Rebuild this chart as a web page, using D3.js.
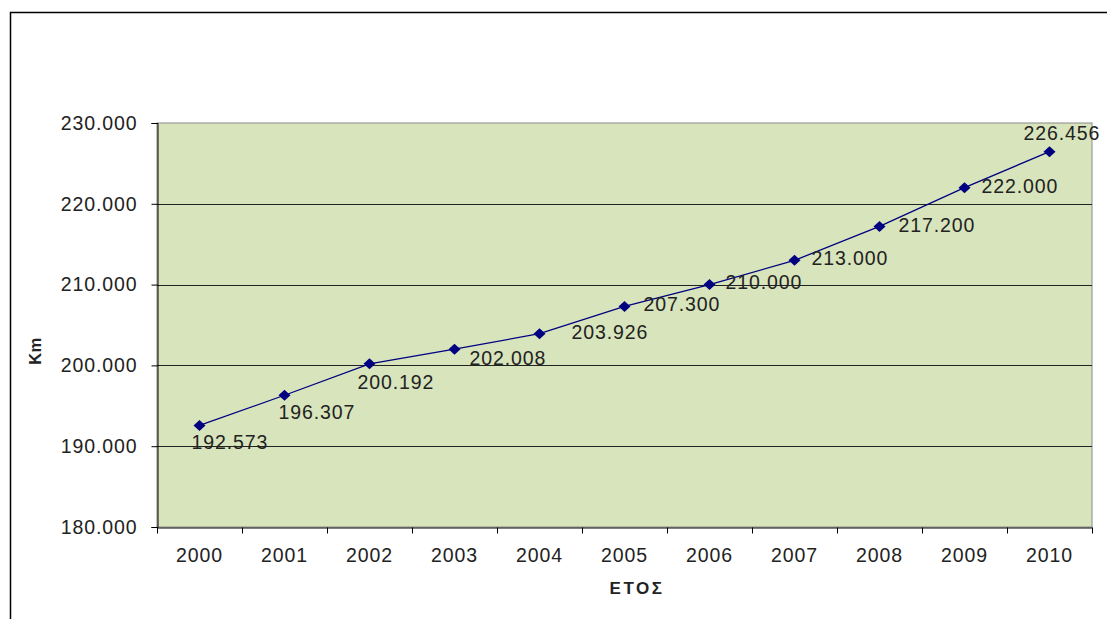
<!DOCTYPE html>
<html>
<head>
<meta charset="utf-8">
<script src="https://cdn.jsdelivr.net/npm/d3@7"></script>
<style>
  html, body { margin: 0; padding: 0; background: #fff; }
  svg { display: block; }
  text { font-family: "Liberation Sans", Arial, sans-serif; fill: #222; }
</style>
</head>
<body>
<svg id="chart" width="1107" height="619"></svg>
<script>
// Road network length per year (km)
const years = ["2000", "2001", "2002", "2003", "2004", "2005", "2006", "2007", "2008", "2009", "2010"];
const km = [192573, 196307, 200192, 202008, 203926, 207300, 210000, 213000, 217200, 222000, 226456];
const yTicks = [180000, 190000, 200000, 210000, 220000, 230000];
const xTitle = "ΕΤΟΣ";
const yTitle = "Km";

// Offset of each value label from its point: [dx to label start, dy to label middle]
const labelOffsets = [[-8, 18], [-6, 19], [-12, 20], [15, 11], [32, 0], [19, -1],
                      [16, -1], [17, -1], [19, 0], [17, 0], [-26, -17]];

const el = d3.formatLocale({ decimal: ",", thousands: ".", grouping: [3] });
const fmt = el.format(",d");

const svg = d3.select("#chart");
const plot = { left: 157, right: 1092, top: 123, bottom: 527 };

// Outer chart frame (open to the right and bottom)
svg.append("rect")
  .attr("x", 10.5).attr("y", 12.5)
  .attr("width", 1120).attr("height", 640)
  .attr("fill", "none").attr("stroke", "#000").attr("stroke-width", 1.5);

const x = d3.scaleBand().domain(years).range([plot.left, plot.right]);
const y = d3.scaleLinear().domain([180000, 230000]).range([plot.bottom, plot.top]);

// Plot area
svg.append("rect")
  .attr("x", plot.left).attr("y", plot.top)
  .attr("width", plot.right - plot.left).attr("height", plot.bottom - plot.top)
  .attr("fill", "#d8e4bc").attr("stroke", "#8a8a8a").attr("stroke-width", 1);

// Horizontal gridlines
svg.append("g")
  .selectAll("line")
  .data(yTicks.filter(t => t > 180000 && t < 230000))
  .join("line")
  .attr("x1", plot.left).attr("x2", plot.right)
  .attr("y1", d => Math.round(y(d)) + 0.5).attr("y2", d => Math.round(y(d)) + 0.5)
  .attr("stroke", "#222").attr("stroke-width", 1);

// Y axis
const yAxis = svg.append("g")
  .attr("transform", `translate(${plot.left + 0.5},0)`)
  .call(d3.axisLeft(y).tickValues(yTicks).tickFormat(fmt).tickSize(6).tickPadding(14));
yAxis.select(".domain").attr("stroke", "#000");
yAxis.selectAll(".tick line").attr("stroke", "#000");
yAxis.selectAll(".tick text")
  .style("font-size", "19.5px").style("letter-spacing", "0.9px")
  .attr("fill", "#222");

// X axis with ticks at category boundaries
const xAxis = svg.append("g")
  .attr("transform", `translate(0,${plot.bottom + 0.5})`)
  .call(d3.axisBottom(x).tickSize(0).tickPadding(21));
xAxis.select(".domain").attr("stroke", "#000");
xAxis.selectAll(".tick text")
  .style("font-size", "19.5px").style("letter-spacing", "0.9px")
  .attr("fill", "#222");
xAxis.selectAll(".boundary")
  .data(years.concat(["end"]))
  .join("line")
  .attr("class", "boundary")
  .attr("x1", (d, i) => Math.round(plot.left + i * x.step()) + 0.5)
  .attr("x2", (d, i) => Math.round(plot.left + i * x.step()) + 0.5)
  .attr("y1", 0).attr("y2", 6)
  .attr("stroke", "#000");

// Axis titles
svg.append("text")
  .attr("x", 637).attr("y", 590)
  .attr("text-anchor", "middle").attr("dominant-baseline", "middle")
  .style("font-size", "17px").style("font-weight", "bold").style("letter-spacing", "2.5px")
  .attr("fill", "#111")
  .text(xTitle);
svg.append("text")
  .attr("transform", "translate(37,351) rotate(-90)")
  .attr("text-anchor", "middle").attr("dominant-baseline", "middle")
  .style("font-size", "16.5px").style("font-weight", "bold").style("letter-spacing", "0.5px")
  .attr("fill", "#111")
  .text(yTitle);

// Series line
const cx = d => x(d) + x.bandwidth() / 2;
const points = years.map((yr, i) => ({ yr, v: km[i], i }));
svg.append("path")
  .datum(points)
  .attr("d", d3.line().x(d => cx(d.yr)).y(d => y(d.v)))
  .attr("fill", "none").attr("stroke", "#000080").attr("stroke-width", 1.3);

// Diamond markers
svg.append("g")
  .selectAll("path")
  .data(points)
  .join("path")
  .attr("transform", d => `translate(${cx(d.yr)},${y(d.v)})`)
  .attr("d", "M0,-5.5L6,0L0,5.5L-6,0Z")
  .attr("fill", "#000080");

// Value labels
svg.append("g")
  .selectAll("text")
  .data(points)
  .join("text")
  .attr("x", d => cx(d.yr) + labelOffsets[d.i][0])
  .attr("y", d => y(d.v) + labelOffsets[d.i][1])
  .attr("dominant-baseline", "middle")
  .style("font-size", "19.5px").style("letter-spacing", "0.9px")
  .attr("fill", "#222")
  .text(d => fmt(d.v));
</script>
</body>
</html>
